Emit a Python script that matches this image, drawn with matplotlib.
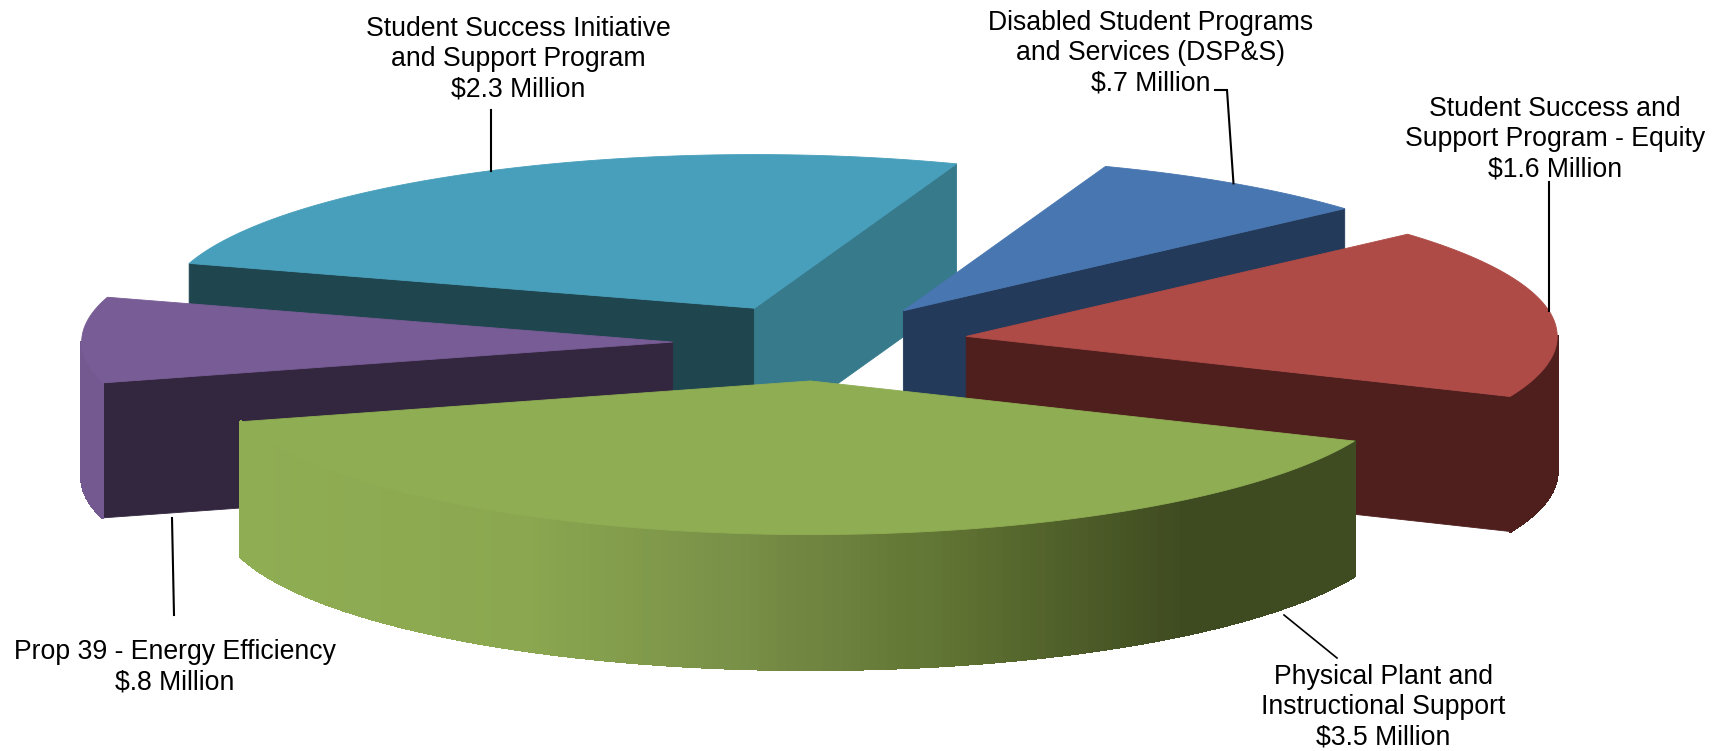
#!/usr/bin/env python
"""
Exploded 3D-style pie of the funding sources, drawn with flat polygons.
"""

import numpy as np
import matplotlib
matplotlib.use('Agg')
import matplotlib.pyplot as plt
from matplotlib.collections import PolyCollection
from matplotlib.colors import LinearSegmentedColormap
from matplotlib.patches import Polygon

# Data, in chart order (clockwise)
labels = [
    'Disabled Student Programs\nand Services (DSP&S)\n$.7 Million',
    'Student Success and\nSupport Program - Equity\n$1.6 Million',
    'Physical Plant and\nInstructional Support\n$3.5 Million',
    'Prop 39 - Energy Efficiency\n$.8 Million',
    'Student Success Initiative\nand Support Program\n$2.3 Million',
]
values = [0.7, 1.6, 3.5, 0.8, 2.3]

top_colors = ['#4876B0', '#AE4B46', '#8FAD53', '#785C95', '#489FBB']
start_face_colors = ['#243A5A', '#4F1F1E', '#3E4A20', '#33273F', '#1F454F']
end_face_colors = ['#243A5A', '#4F1F1E', '#3E4A20', '#33273F', '#367A8C']
wall_colors = ['#243A5A', '#4F1F1E', None, '#73598F', '#367A8C']

label_x = [1151, 1555, 1383, 175, 518]
label_y = [53, 139, 707, 667, 59]

# Geometry of the projected pie, in pixels
CENTER_X = 820.4
CENTER_Y = 342.6
RADIUS = 591.0
SQUASH = 0.26
EXPLODE = 0.25
DEPTH = 135.0
FIRST_ANGLE = 20.0


def project(angle, radius):
    """Angle is clockwise from the far side of the pie, in degrees."""
    rad = np.radians(angle)
    return radius * np.sin(rad), -radius * SQUASH * np.cos(rad)


def draw_poly(ax, points, color, z):
    ax.add_patch(Polygon(points, closed=True, facecolor=color, edgecolor=color,
                         linewidth=0.6, zorder=z))


# Slice boundaries come from the values
fractions = np.array(values) / np.sum(values)
starts = FIRST_ANGLE + 360 * np.concatenate(([0], np.cumsum(fractions)[:-1]))
ends = starts + 360 * fractions
mids = (starts + ends) / 2

apex_dx, apex_dy = project(mids, EXPLODE * RADIUS)
apex_x = CENTER_X + apex_dx
apex_y = CENTER_Y + apex_dy

fig = plt.figure(figsize=(17.22, 7.51), dpi=100)
ax = fig.add_axes([0, 0, 1, 1])
ax.set_xlim(0, 1722)
ax.set_ylim(751, 0)
ax.axis('off')

green_wall = LinearSegmentedColormap.from_list('green_wall', [
    (0.0, '#8FAD53'), (0.25, '#8BA850'), (0.45, '#788F47'),
    (0.64, '#5F7232'), (0.85, '#3E4A20'), (1.0, '#3F4C22'),
])

# Back slices first, the big green one goes on top of everything
draw_order = [4, 0, 3, 1, 2]
for n, i in enumerate(draw_order):
    z = 10 + n * 5
    ax_i, ay_i = apex_x[i], apex_y[i]

    # Cut faces, only the ones turned towards the viewer
    if -np.sin(np.radians(starts[i])) > 0:
        dx, dy = project(starts[i], RADIUS)
        draw_poly(ax, [(ax_i, ay_i), (ax_i + dx, ay_i + dy),
                       (ax_i + dx, ay_i + dy + DEPTH), (ax_i, ay_i + DEPTH)],
                  start_face_colors[i], z)
    if np.sin(np.radians(ends[i])) > 0:
        dx, dy = project(ends[i], RADIUS)
        draw_poly(ax, [(ax_i, ay_i), (ax_i + dx, ay_i + dy),
                       (ax_i + dx, ay_i + dy + DEPTH), (ax_i, ay_i + DEPTH)],
                  end_face_colors[i], z)

    # Outer wall, front half of the ellipse only
    lo = max(starts[i], 90)
    hi = min(ends[i], 270)
    if hi > lo:
        angles = np.linspace(lo, hi, 160)
        dx, dy = project(angles, RADIUS)
        xs, ys = ax_i + dx, ay_i + dy
        quads = [[(xs[k], ys[k]), (xs[k + 1], ys[k + 1]),
                  (xs[k + 1], ys[k + 1] + DEPTH), (xs[k], ys[k] + DEPTH)]
                 for k in range(len(xs) - 1)]
        if wall_colors[i] is None:
            mid_x = (xs[:-1] + xs[1:]) / 2
            shade = (mid_x - xs.min()) / (xs.max() - xs.min())
            colors = green_wall(shade)
        else:
            colors = wall_colors[i]
        ax.add_collection(PolyCollection(quads, facecolors=colors, edgecolors=colors,
                                         linewidths=1.5, antialiaseds=False, zorder=z + 1))

    # Top surface
    angles = np.linspace(starts[i], ends[i], 200)
    dx, dy = project(angles, RADIUS)
    pts = [(ax_i, ay_i)] + list(zip(ax_i + dx, ay_i + dy))
    draw_poly(ax, pts, top_colors[i], z + 2)

# Leader lines: rim anchors follow the slices, the far ends sit by the labels
blue_x, blue_y = project(mids[0] - 0.2, RADIUS)
ax.plot([apex_x[0] + blue_x, 1227, 1215], [apex_y[0] + blue_y, 90, 90],
        color='black', lw=1.5, zorder=50, solid_joinstyle='miter')
red_x, red_y = project(mids[1], RADIUS)
ax.plot([apex_x[1] + red_x, apex_x[1] + red_x], [apex_y[1] + red_y, 182],
        color='black', lw=1.5, zorder=50)
teal_x, teal_y = project(mids[4], RADIUS)
ax.plot([apex_x[4] + teal_x, apex_x[4] + teal_x], [apex_y[4] + teal_y, 110],
        color='black', lw=1.5, zorder=50)
ax.plot([172, 174], [518, 615], color='black', lw=1.5, zorder=50)
ax.plot([1284, 1337], [615, 658], color='black', lw=1.2, zorder=50)

for text, x, y in zip(labels, label_x, label_y):
    ax.text(x, y, text, ha='center', va='center', family='Liberation Sans',
            fontsize=19.2, linespacing=1.21, color='black', zorder=60)

fig.savefig('out.png', dpi=100)
